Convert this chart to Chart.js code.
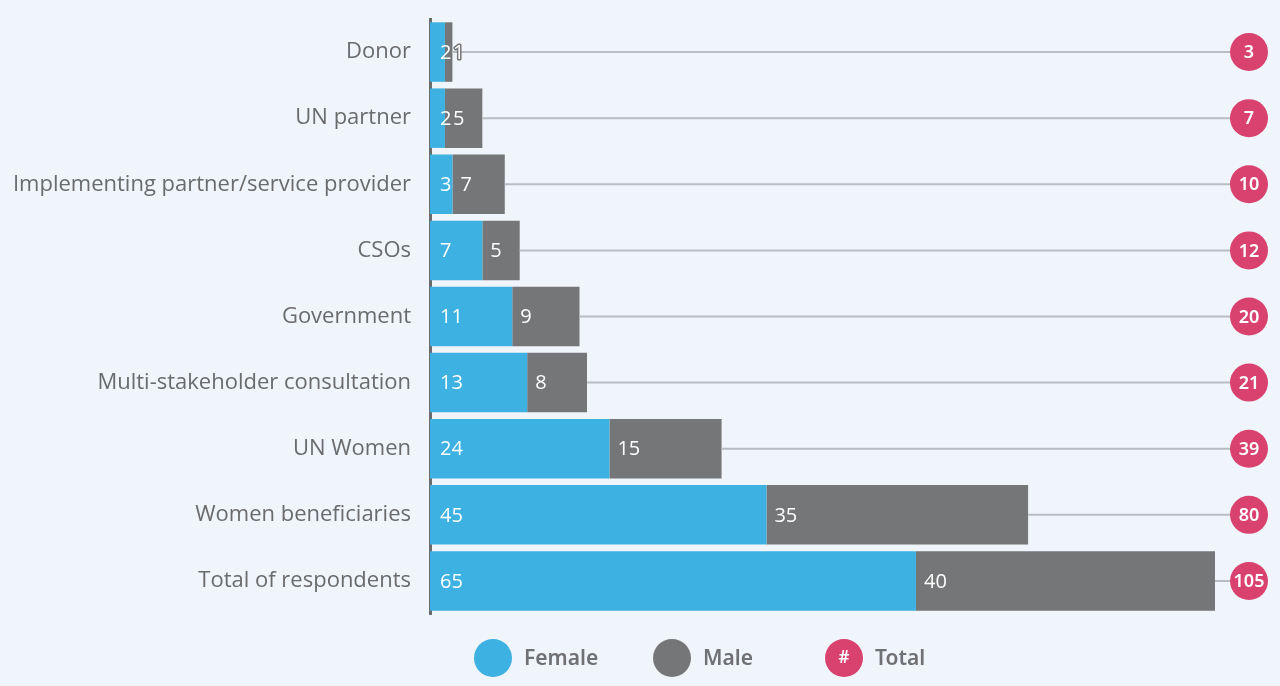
<!DOCTYPE html>
<html><head><meta charset="utf-8">
<script src="https://cdn.jsdelivr.net/npm/chart.js@4"></script>
<style>
html,body{margin:0;padding:0;background:#f0f4fb;}
#wrap{position:relative;width:1280px;height:686px;}
</style></head>
<body><div id="wrap"><canvas id="c" width="1280" height="686"></canvas></div>
<script>
const categories = ["Donor","UN partner","Implementing partner/service provider","CSOs","Government","Multi-stakeholder consultation","UN Women","Women beneficiaries","Total of respondents"];
const female = [2,2,3,7,11,13,24,45,65];
const male = [1,5,7,5,9,8,15,35,40];
const totals = [3,7,10,12,20,21,39,80,105];
const legendLabels = ["Female","Male","Total"];

const BLUE = "#3cb1e2", GREY = "#757677", PINK = "#d9426f";

const overlay = {
  id: "overlay",
  afterDatasetsDraw(chart) {
    const ctx = chart.ctx, ca = chart.chartArea, ys = chart.scales.y;
    ctx.save();
    const m0 = chart.getDatasetMeta(1);
    totals.forEach((t, i) => {
      const bar = m0.data[i];
      const y = ys.getPixelForValue(i);
      const cx = ca.right + 34;
      ctx.strokeStyle = "#b9bcc1"; ctx.lineWidth = 2;
      ctx.beginPath(); ctx.moveTo(bar.x, y); ctx.lineTo(cx, y); ctx.stroke();
      ctx.fillStyle = PINK;
      ctx.beginPath(); ctx.arc(cx, y, 19, 0, Math.PI * 2); ctx.fill();
      ctx.fillStyle = "#fff"; ctx.font = "600 18px 'Noto Sans'";
      ctx.textAlign = "center"; ctx.textBaseline = "middle";
      ctx.fillText(String(t), cx, y + 1);
    });
    [0, 1].forEach(di => {
      const meta = chart.getDatasetMeta(di);
      const vals = chart.data.datasets[di].data;
      meta.data.forEach((bar, i) => {
        const y = bar.y;
        const x = Math.min(bar.base, bar.x) + 10;
        ctx.font = "20px 'Open Sans'";
        ctx.textAlign = "left"; ctx.textBaseline = "middle";
        ctx.lineWidth = 3; ctx.strokeStyle = GREY; ctx.lineJoin = "round";
        const xx = di === 1 ? x - 2 : x;
        if (di === 1) ctx.strokeText(String(vals[i]), xx, y + 1);
        ctx.fillStyle = "#fff";
        ctx.fillText(String(vals[i]), xx, y + 1);
      });
    });
    const ly = 658;
    const items = [
      {x: 493, color: BLUE, label: legendLabels[0], tx: 524},
      {x: 672, color: GREY, label: legendLabels[1], tx: 703},
      {x: 844, color: PINK, label: legendLabels[2], tx: 875, hash: true}
    ];
    items.forEach(it => {
      ctx.fillStyle = it.color;
      ctx.beginPath(); ctx.arc(it.x, ly, 19, 0, Math.PI * 2); ctx.fill();
      if (it.hash) {
        ctx.fillStyle = "#fff"; ctx.font = "600 17px 'Noto Sans'";
        ctx.textAlign = "center"; ctx.textBaseline = "middle";
        ctx.fillText("#", it.x, ly);
      }
      ctx.fillStyle = "#707174"; ctx.font = "600 21px 'Noto Sans'";
      ctx.textAlign = "left"; ctx.textBaseline = "middle";
      ctx.fillText(it.label, it.tx, ly + 1);
    });
    ctx.restore();
  }
};

new Chart(document.getElementById("c"), {
  type: "bar",
  data: {
    labels: categories,
    datasets: [
      {label: "Female", data: female, backgroundColor: BLUE, barPercentage: 0.9, categoryPercentage: 1},
      {label: "Male", data: male, backgroundColor: GREY, barPercentage: 0.9, categoryPercentage: 1}
    ]
  },
  options: {
    indexAxis: "y",
    responsive: false,
    animation: false,
    layout: {padding: {top: 19, right: 65, bottom: 72, left: 0}},
    plugins: {legend: {display: false}, tooltip: {enabled: false}},
    scales: {
      x: {stacked: true, display: false, min: 0, max: 105},
      y: {
        stacked: true,
        afterFit(s) { s.width = 430; s.paddingTop = 0; s.paddingBottom = 0; },
        grid: {display: false, drawTicks: false},
        border: {display: true, color: "#6b6c6e", width: 3},
        ticks: {color: "#6a6b6d", font: {family: "'Open Sans'", size: 22}, padding: 19}
      }
    }
  },
  plugins: [overlay]
});
</script>
</body></html>
